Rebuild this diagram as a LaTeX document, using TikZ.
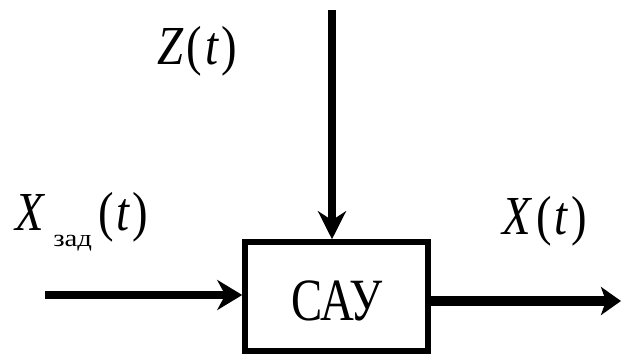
\documentclass[tikz,border=0pt]{standalone}
\usepackage{fontspec}
\setmainfont{Liberation Serif}
\usetikzlibrary{arrows.meta}
\begin{document}
\begin{tikzpicture}[x=1pt,y=-1pt,
  lbl/.style={inner sep=0pt, anchor=base west, font=\fontsize{55}{60}\selectfont},
  blk/.style={draw, line width=5.5pt, minimum width=183pt, minimum height=109pt, inner sep=0pt},
  sig/.style={line width=7.5pt},
  sigout/.style={line width=10pt}]
\useasboundingbox (0,0) rectangle (621,358);
\node[blk] (box) at (336.5,296.5) {};
\node[inner sep=0pt, font=\fontsize{60}{60}\selectfont] (sau) at (337,301) {\scalebox{0.78}[1]{САУ}};
\coordinate (zin) at (332,10);
\coordinate (xin) at (45,295);
\coordinate (xout) at (621,301);
\draw[sig, -{Stealth[length=28pt,width=28pt,inset=9pt]}] (zin) -- (zin |- box.north);
\draw[sig, -{Stealth[length=25pt,width=30pt,inset=8pt]}] (xin) -- (xin -| box.west);
\draw[sigout, -{Stealth[length=20pt,width=28pt,inset=5pt]}] (box.east |- xout) -- (xout);
\node[lbl] (zl) at (157,65) {\scalebox{0.85}[1]{\textit{Z}\hspace{4pt}(\hspace{3pt}\textit{t}\hspace{3pt})}};
\node[lbl] (xzl) at (15,230) {\scalebox{0.85}[1]{\textit{X}}\hspace{8pt}\raisebox{-16pt}{\fontsize{24}{24}\selectfont\scalebox{1.2}[1]{зад}}\hspace{6pt}\scalebox{0.85}[1]{(\hspace{3pt}\textit{t}\hspace{3pt})}};
\node[lbl] (xl) at (502,235) {\scalebox{0.85}[1]{\textit{X}\hspace{5pt}(\hspace{3pt}\textit{t}\hspace{3pt})}};
\end{tikzpicture}
\end{document}
